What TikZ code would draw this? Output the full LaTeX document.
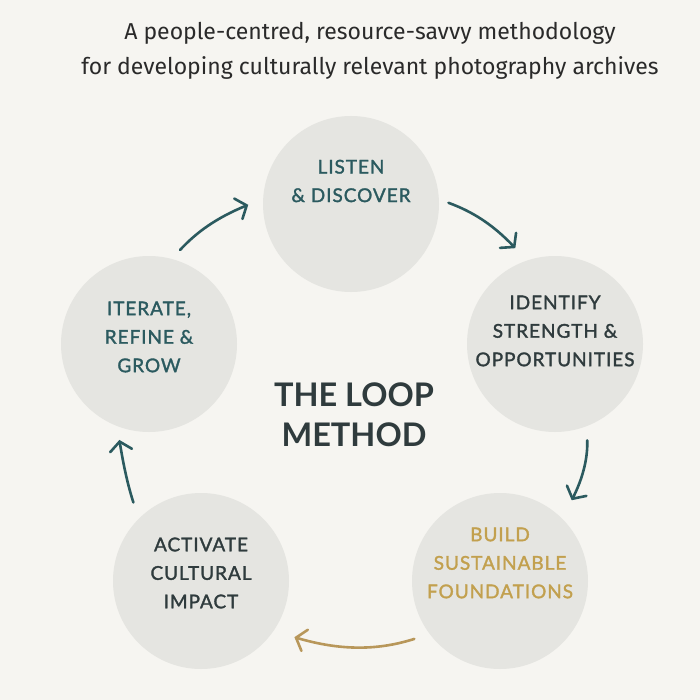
\documentclass[tikz,border=0pt]{standalone}
\usepackage{fontspec}
\setmainfont{Fira Sans}
\newfontfamily\stagefont[LetterSpace=5,FakeBold=1.6]{Lato}
\newfontfamily\headfont{Lato}
\usepackage{tikz}
\usetikzlibrary{arrows.meta,bending}
\usepackage{xcolor}
\definecolor{paper}{HTML}{F6F5F1}
\definecolor{disc}{HTML}{E5E5E1}
\definecolor{deep}{HTML}{2B5A5F}
\definecolor{slate}{HTML}{2F3B3D}
\definecolor{ochre}{HTML}{C2A04E}
\definecolor{brass}{HTML}{B8975A}
\definecolor{ink}{HTML}{2A2A2A}

\begin{document}
\begin{tikzpicture}[x=1pt,y=-1pt,
  stage/.style={circle,fill=disc,minimum size=176pt,inner sep=0pt},
  caption/.style={align=center,inner sep=0pt,font=\stagefont\fontsize{19}{28.5}\selectfont},
  flow/.style={draw=deep,line width=2.6pt,line cap=round,-{Straight Barb[length=9pt,width=22pt,line cap=round]}},
  title/.style={font=\fontsize{23}{35}\selectfont,color=ink,align=center}]
  \fill[paper] (0,0) rectangle (700,700);
  \node[title] (head) at (370,51) {A people-centred, resource-savvy methodology\\for developing culturally relevant photography archives};
  % the five stages
  \node[stage] (listen) at (351,204) {};
  \node[stage] (identify) at (555,344) {};
  \node[stage] (build) at (500,581) {};
  \node[stage] (activate) at (201,581) {};
  \node[stage] (iterate) at (149,344) {};
  \node[caption,text=deep] (listen-t) at ([yshift=23pt]listen.center) {LISTEN\\\& DISCOVER};
  \node[caption,text=slate] (identify-t) at ([yshift=13pt]identify.center) {IDENTIFY\\STRENGTH \&\\OPPORTUNITIES};
  \node[caption,text=ochre] (build-t) at ([yshift=18pt]build.center) {BUILD\\SUSTAINABLE\\FOUNDATIONS};
  \node[caption,text=slate] (activate-t) at ([yshift=8pt]activate.center) {ACTIVATE\\CULTURAL\\IMPACT};
  \node[caption,text=deep] (iterate-t) at ([yshift=7pt]iterate.center) {ITERATE,\\REFINE \&\\GROW};
  \node[font=\headfont\bfseries\fontsize{32.5}{40}\selectfont,text=slate,align=center] (loop) at (354,415) {THE LOOP\\METHOD};
  % arrows round the loop
  \draw[flow,shorten <=12pt,shorten >=16pt] (iterate.75) to[bend left=14] (listen.177);
  \draw[flow,shorten <=10pt,shorten >=17pt] (listen.3) to[bend left=15] (identify.109);
  \draw[flow,shorten <=14pt,shorten >=21pt] (identify.-69) to[bend left=18] (build.46);
  \draw[flow,draw=brass,shorten <=16pt,shorten >=22pt] (build.217) to[bend left=19] (activate.-34);
  \draw[flow,shorten <=17pt,shorten >=14pt] (activate.135) to[bend left=5] (iterate.249);
\end{tikzpicture}
\end{document}
